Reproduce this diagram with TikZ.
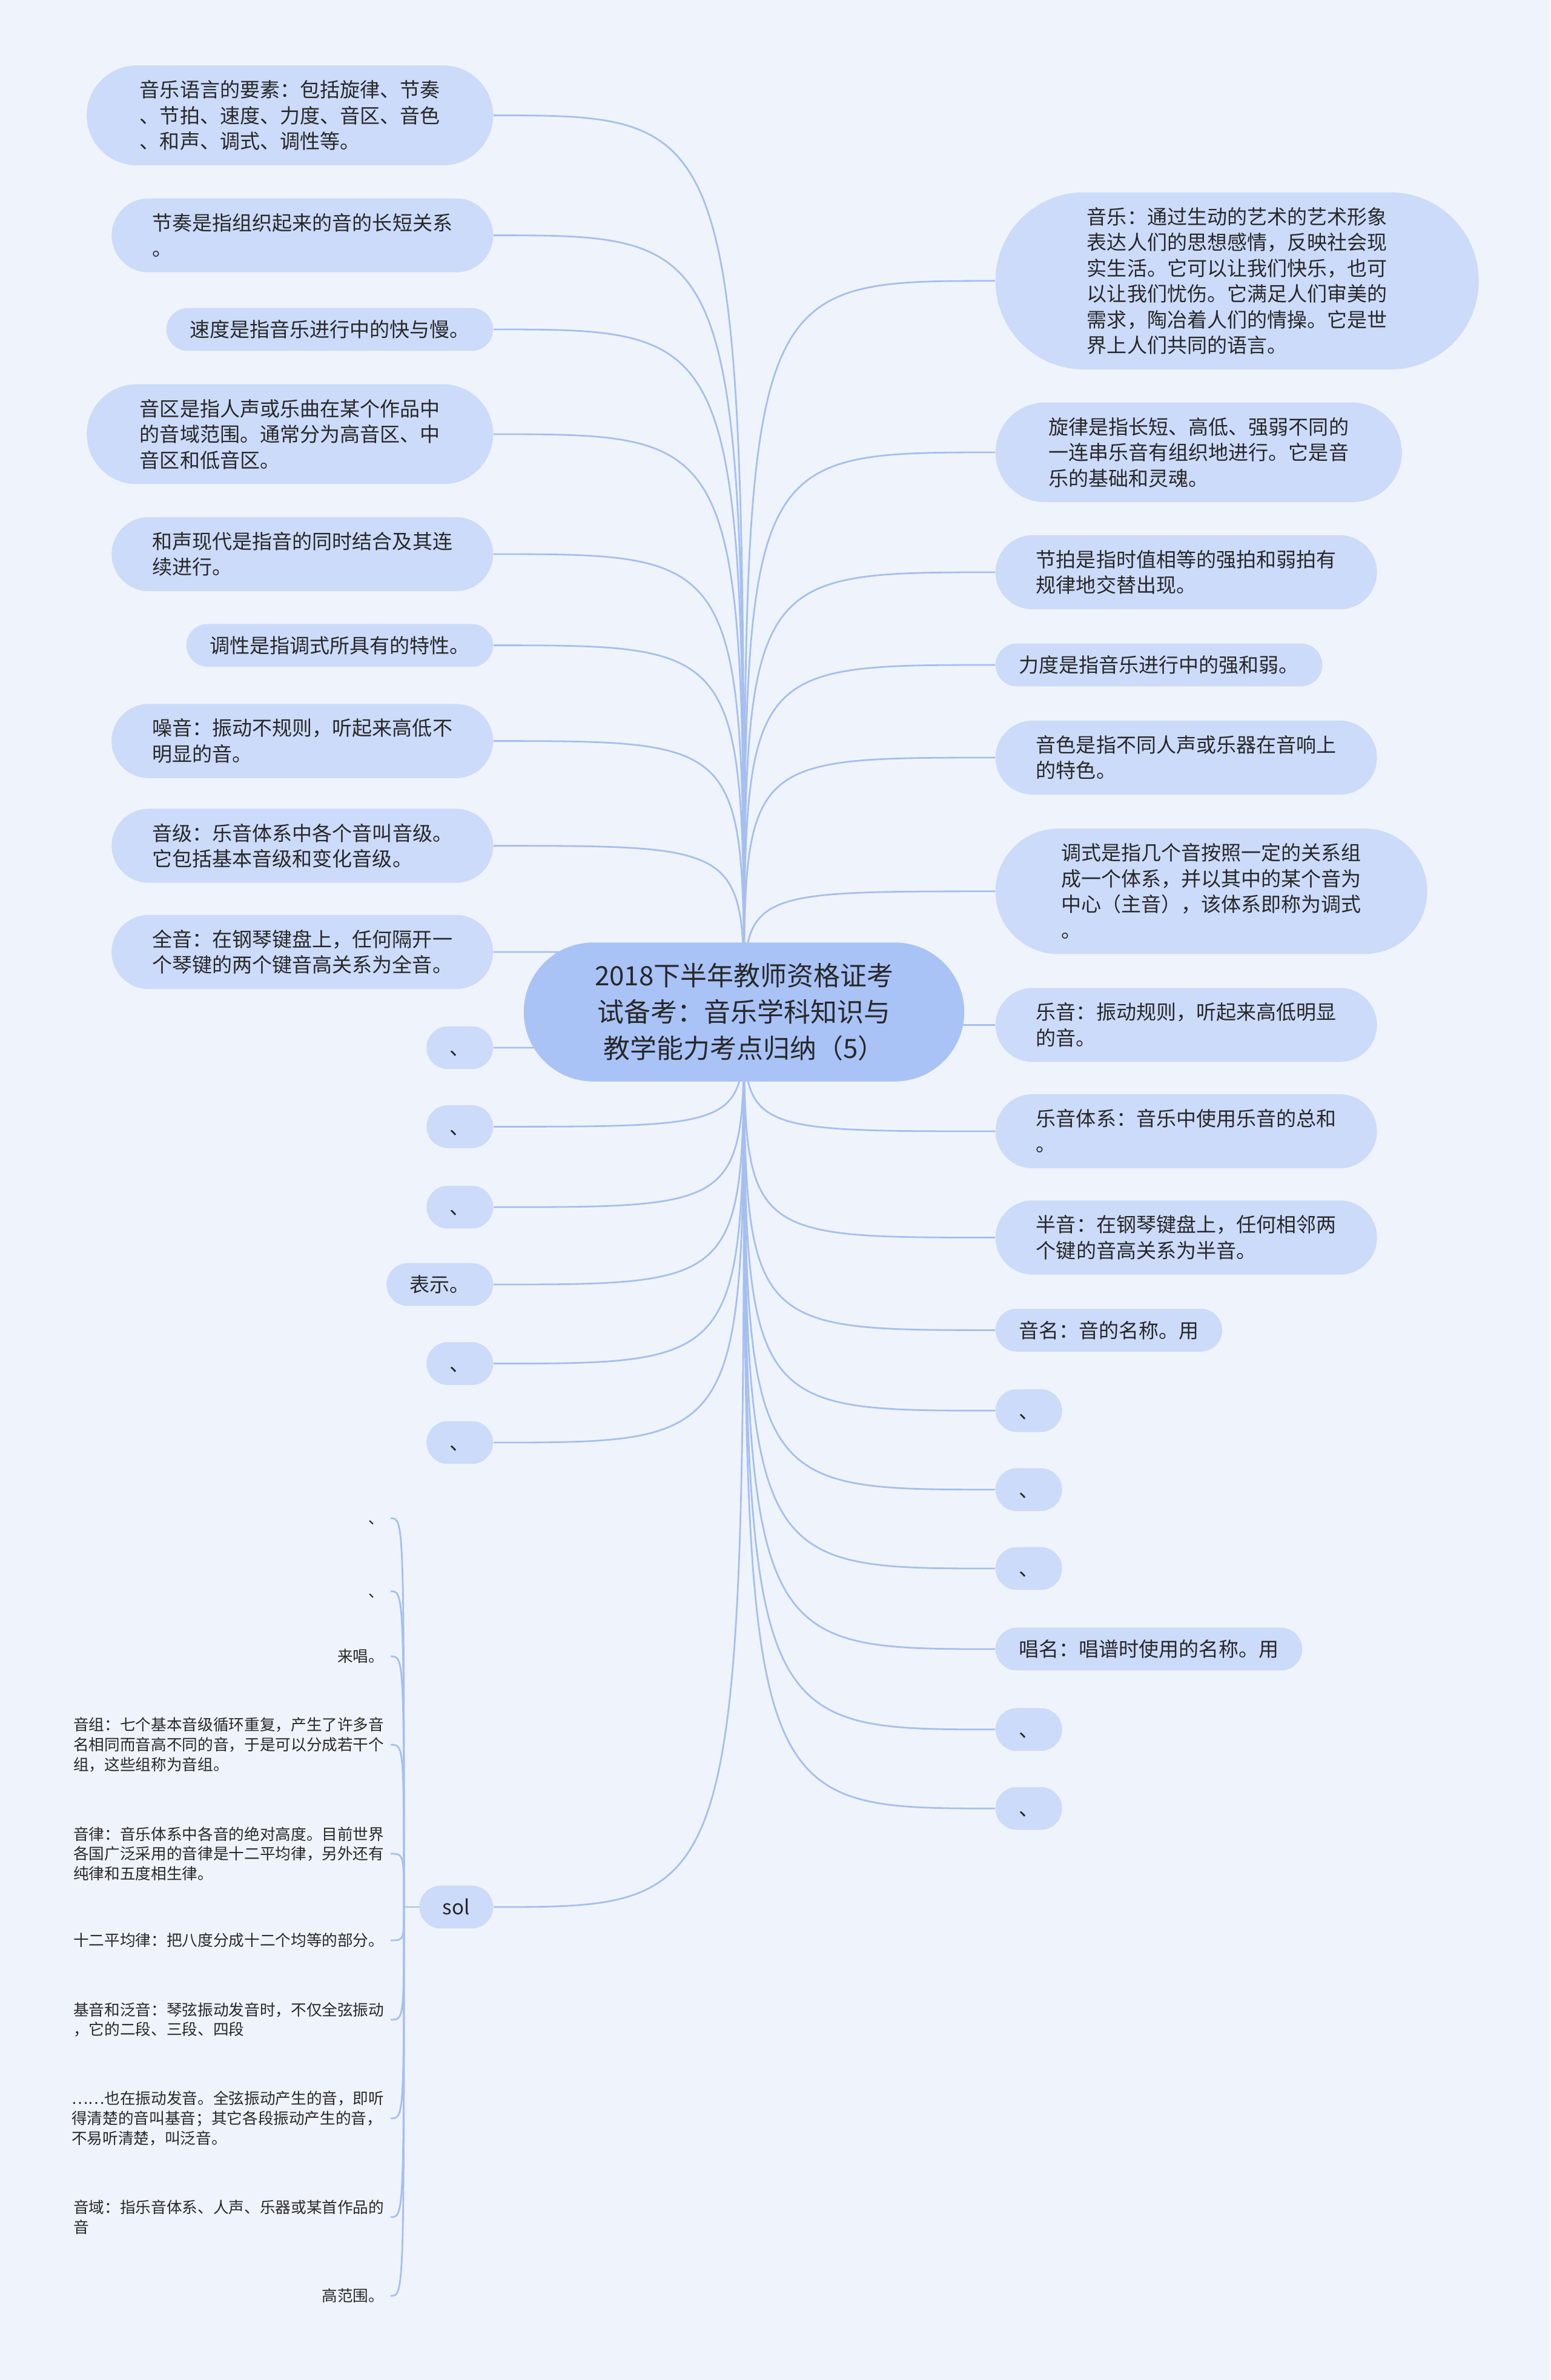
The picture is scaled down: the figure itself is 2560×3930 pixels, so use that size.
\documentclass[tikz,border=0pt]{standalone}
\usepackage{fontspec}
\setmainfont{Noto Sans CJK SC}
\usetikzlibrary{shapes.misc,backgrounds}
\definecolor{paper}{RGB}{239,244,252}
\definecolor{leaffill}{RGB}{204,219,250}
\definecolor{rootfill}{RGB}{169,195,247}
\definecolor{linkblue}{RGB}{166,191,240}
\definecolor{textgray}{RGB}{40,40,40}
\tikzset{
  root/.style={rounded rectangle, fill=rootfill, align=center, text=textgray,
    inner xsep=8.4mm, inner ysep=3.4mm, font=\fontsize{12.5pt}{17.1pt}\selectfont},
  leaf/.style={rounded rectangle, fill=leaffill, align=left, text=textgray,
    inner ysep=2.45mm, font=\fontsize{9.4pt}{12.1pt}\selectfont,
    execute at begin node=\vphantom{音}},
  leafi/.style={leaf, inner xsep=3.5mm, inner ysep=2mm, minimum height=7mm},
  leafii/.style={leaf, inner xsep=5.5mm},
  leafiii/.style={leaf, inner xsep=6.4mm},
  leafiv/.style={leaf, inner xsep=7.2mm},
  leafvi/.style={leaf, inner xsep=8.6mm},
  note/.style={align=left, text=textgray, inner xsep=1mm, inner ysep=0.5mm,
    font=\fontsize{7.3pt}{9.3pt}\selectfont, execute at begin node=\vphantom{音}},
  branch/.style={draw=linkblue, line width=0.8pt}
}

\begin{document}
\begin{tikzpicture}[x=0.1mm, y=-0.1mm]
  \useasboundingbox (0,0) rectangle (2560,3930);
  \begin{pgfonlayer}{background}
    \fill[paper] (0,0) rectangle (2560,3930);
  \end{pgfonlayer}

  \node[root] (root) at (1228.5,1671) {2018下半年教师资格证考\\试备考：音乐学科知识与\\教学能力考点归纳（5）};

  % left side
  \node[leafiii, anchor=east] (yuyan) at (815,190.5) {音乐语言的要素：包括旋律、节奏\\、节拍、速度、力度、音区、音色\\、和声、调式、调性等。};
  \node[leafii, anchor=east] (jiezou) at (815,388.6) {节奏是指组织起来的音的长短关系\\。};
  \node[leafi, anchor=east] (sudu) at (815,544) {速度是指音乐进行中的快与慢。};
  \node[leafiii, anchor=east] (yinqu) at (815,717) {音区是指人声或乐曲在某个作品中\\的音域范围。通常分为高音区、中\\音区和低音区。};
  \node[leafii, anchor=east] (hesheng) at (815,915) {和声现代是指音的同时结合及其连\\续进行。};
  \node[leafi, anchor=east] (diaoxing) at (815,1065.6) {调性是指调式所具有的特性。};
  \node[leafii, anchor=east] (zaoyin) at (815,1223.6) {噪音：振动不规则，听起来高低不\\明显的音。};
  \node[leafii, anchor=east] (yinji) at (815,1396.6) {音级：乐音体系中各个音叫音级。\\它包括基本音级和变化音级。};
  \node[leafii, anchor=east] (quanyin) at (815,1572) {全音：在钢琴键盘上，任何隔开一\\个琴键的两个键音高关系为全音。};
  \node[leafi, anchor=east] (dunLa) at (815,1730) {、};
  \node[leafi, anchor=east] (dunLb) at (815,1860.4) {、};
  \node[leafi, anchor=east] (dunLc) at (815,1993.3) {、};
  \node[leafi, anchor=east] (biaoshi) at (815,2121) {表示。};
  \node[leafi, anchor=east] (dunLd) at (815,2251.6) {、};
  \node[leafi, anchor=east] (dunLe) at (815,2382) {、};
  \node[leafi, anchor=east] (sol) at (815,3149) {sol};

  % right side
  \node[leafvi, anchor=west] (yinyue) at (1643,463.8) {音乐：通过生动的艺术的艺术形象\\表达人们的思想感情，反映社会现\\实生活。它可以让我们快乐，也可\\以让我们忧伤。它满足人们审美的\\需求，陶冶着人们的情操。它是世\\界上人们共同的语言。};
  \node[leafiii, anchor=west] (xuanlv) at (1643,747) {旋律是指长短、高低、强弱不同的\\一连串乐音有组织地进行。它是音\\乐的基础和灵魂。};
  \node[leafii, anchor=west] (jiepai) at (1643,945) {节拍是指时值相等的强拍和弱拍有\\规律地交替出现。};
  \node[leafi, anchor=west] (lidu) at (1643,1098) {力度是指音乐进行中的强和弱。};
  \node[leafii, anchor=west] (yinse) at (1643,1251) {音色是指不同人声或乐器在音响上\\的特色。};
  \node[leafiv, anchor=west] (diaoshi) at (1643,1471.8) {调式是指几个音按照一定的关系组\\成一个体系，并以其中的某个音为\\中心（主音），该体系即称为调式\\。};
  \node[leafii, anchor=west] (yueyin) at (1643,1692.4) {乐音：振动规则，听起来高低明显\\的音。};
  \node[leafii, anchor=west] (tixi) at (1643,1868) {乐音体系：音乐中使用乐音的总和\\。};
  \node[leafii, anchor=west] (banyin) at (1643,2043.5) {半音：在钢琴键盘上，任何相邻两\\个键的音高关系为半音。};
  \node[leafi, anchor=west] (yinming) at (1643,2196.4) {音名：音的名称。用};
  \node[leafi, anchor=west] (dunRa) at (1643,2329.3) {、};
  \node[leafi, anchor=west] (dunRb) at (1643,2459.7) {、};
  \node[leafi, anchor=west] (dunRc) at (1643,2590) {、};
  \node[leafi, anchor=west] (changming) at (1643,2723) {唱名：唱谱时使用的名称。用};
  \node[leafi, anchor=west] (dunRd) at (1643,2855.8) {、};
  \node[leafi, anchor=west] (dunRe) at (1643,2986.2) {、};

  % children of sol
  \coordinate (solspine) at (667,3149);
  \node[note, anchor=east] (dunSa) at (645,2507) {、};
  \node[note, anchor=east] (dunSb) at (645,2627.6) {、};
  \node[note, anchor=east] (laichang) at (645,2735) {来唱。};
  \node[note, anchor=east] (yinzu) at (645,2881) {音组：七个基本音级循环重复，产生了许多音\\名相同而音高不同的音，于是可以分成若干个\\组，这些组称为音组。};
  \node[note, anchor=east] (yinlv) at (645,3061) {音律：音乐体系中各音的绝对高度。目前世界\\各国广泛采用的音律是十二平均律，另外还有\\纯律和五度相生律。};
  \node[note, anchor=east] (pingjun) at (645,3204) {十二平均律：把八度分成十二个均等的部分。};
  \node[note, anchor=east] (jiyin) at (645,3335) {基音和泛音：琴弦振动发音时，不仅全弦振动\\，它的二段、三段、四段};
  \node[note, anchor=east] (fanyin) at (645,3498) {……也在振动发音。全弦振动产生的音，即听\\得清楚的音叫基音；其它各段振动产生的音，\\不易听清楚，叫泛音。};
  \node[note, anchor=east] (yinyu) at (645,3661) {音域：指乐音体系、人声、乐器或某首作品的\\音};
  \node[note, anchor=east] (fanwei) at (645,3791) {高范围。};

  \begin{pgfonlayer}{background}
    \draw[branch] (root.center) .. controls (root.center |- yuyan) .. (yuyan.east);
    \draw[branch] (root.center) .. controls (root.center |- jiezou) .. (jiezou.east);
    \draw[branch] (root.center) .. controls (root.center |- sudu) .. (sudu.east);
    \draw[branch] (root.center) .. controls (root.center |- yinqu) .. (yinqu.east);
    \draw[branch] (root.center) .. controls (root.center |- hesheng) .. (hesheng.east);
    \draw[branch] (root.center) .. controls (root.center |- diaoxing) .. (diaoxing.east);
    \draw[branch] (root.center) .. controls (root.center |- zaoyin) .. (zaoyin.east);
    \draw[branch] (root.center) .. controls (root.center |- yinji) .. (yinji.east);
    \draw[branch] (root.center) .. controls (root.center |- quanyin) .. (quanyin.east);
    \draw[branch] (root.center) .. controls (root.center |- dunLa) .. (dunLa.east);
    \draw[branch] (root.center) .. controls (root.center |- dunLb) .. (dunLb.east);
    \draw[branch] (root.center) .. controls (root.center |- dunLc) .. (dunLc.east);
    \draw[branch] (root.center) .. controls (root.center |- biaoshi) .. (biaoshi.east);
    \draw[branch] (root.center) .. controls (root.center |- dunLd) .. (dunLd.east);
    \draw[branch] (root.center) .. controls (root.center |- dunLe) .. (dunLe.east);
    \draw[branch] (root.center) .. controls (root.center |- sol) .. (sol.east);
    \draw[branch] (root.center) .. controls (root.center |- yinyue) .. (yinyue.west);
    \draw[branch] (root.center) .. controls (root.center |- xuanlv) .. (xuanlv.west);
    \draw[branch] (root.center) .. controls (root.center |- jiepai) .. (jiepai.west);
    \draw[branch] (root.center) .. controls (root.center |- lidu) .. (lidu.west);
    \draw[branch] (root.center) .. controls (root.center |- yinse) .. (yinse.west);
    \draw[branch] (root.center) .. controls (root.center |- diaoshi) .. (diaoshi.west);
    \draw[branch] (root.center) .. controls (root.center |- yueyin) .. (yueyin.west);
    \draw[branch] (root.center) .. controls (root.center |- tixi) .. (tixi.west);
    \draw[branch] (root.center) .. controls (root.center |- banyin) .. (banyin.west);
    \draw[branch] (root.center) .. controls (root.center |- yinming) .. (yinming.west);
    \draw[branch] (root.center) .. controls (root.center |- dunRa) .. (dunRa.west);
    \draw[branch] (root.center) .. controls (root.center |- dunRb) .. (dunRb.west);
    \draw[branch] (root.center) .. controls (root.center |- dunRc) .. (dunRc.west);
    \draw[branch] (root.center) .. controls (root.center |- changming) .. (changming.west);
    \draw[branch] (root.center) .. controls (root.center |- dunRd) .. (dunRd.west);
    \draw[branch] (root.center) .. controls (root.center |- dunRe) .. (dunRe.west);
    \draw[branch] (sol.west) -- (solspine);
    \draw[branch] (solspine) .. controls (solspine |- dunSa) .. (dunSa.east);
    \draw[branch] (solspine) .. controls (solspine |- dunSb) .. (dunSb.east);
    \draw[branch] (solspine) .. controls (solspine |- laichang) .. (laichang.east);
    \draw[branch] (solspine) .. controls (solspine |- yinzu) .. (yinzu.east);
    \draw[branch] (solspine) .. controls (solspine |- yinlv) .. (yinlv.east);
    \draw[branch] (solspine) .. controls (solspine |- pingjun) .. (pingjun.east);
    \draw[branch] (solspine) .. controls (solspine |- jiyin) .. (jiyin.east);
    \draw[branch] (solspine) .. controls (solspine |- fanyin) .. (fanyin.east);
    \draw[branch] (solspine) .. controls (solspine |- yinyu) .. (yinyu.east);
    \draw[branch] (solspine) .. controls (solspine |- fanwei) .. (fanwei.east);
  \end{pgfonlayer}
\end{tikzpicture}
\end{document}
